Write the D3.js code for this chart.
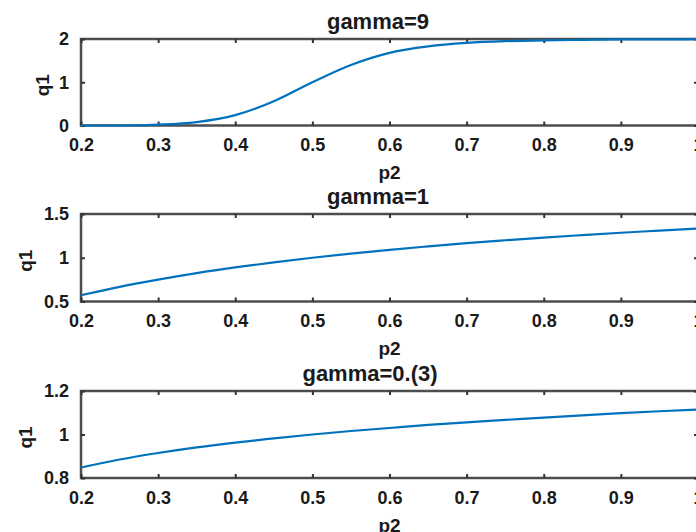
<!DOCTYPE html>
<html>
<head>
<meta charset="utf-8">
<script src="https://cdn.jsdelivr.net/npm/d3@7"></script>
<style>
  body { margin: 0; background: #fff; }
  svg { display: block; }
</style>
</head>
<body>
<svg id="svg"></svg>
<script>
// values
const p2Values = [0.2, 0.25, 0.3, 0.35, 0.4, 0.45, 0.5, 0.55, 0.6, 0.65, 0.7, 0.75, 0.8, 0.85, 0.9, 0.95, 1.0];
const q1Gamma9 = [0.0, 0.0, 0.02, 0.08, 0.24, 0.56, 1.0, 1.40, 1.68, 1.83, 1.91, 1.95, 1.97, 1.98, 1.99, 1.99, 2.0];
const q1Gamma1 = [0.571, 0.667, 0.75, 0.824, 0.889, 0.947, 1.0, 1.048, 1.091, 1.13, 1.167, 1.2, 1.231, 1.259, 1.286, 1.31, 1.333];
const q1GammaThird = [0.848, 0.885, 0.915, 0.941, 0.963, 0.982, 1.0, 1.016, 1.03, 1.044, 1.056, 1.067, 1.078, 1.088, 1.098, 1.107, 1.115];

const panelTitles = ["gamma=9", "gamma=1", "gamma=0.(3)"];
const xTicks = [0.2, 0.3, 0.4, 0.5, 0.6, 0.7, 0.8, 0.9, 1];
const yDomains = [[0, 2], [0.5, 1.5], [0.8, 1.2]];
const yTicks = [[0, 1, 2], [0.5, 1, 1.5], [0.8, 1, 1.2]];
const xLabel = "p2";
const yLabel = "q1";

let width = 696;
let height = 532;

let svg = d3.select("#svg")
    .attr("width", width)
    .attr("height", height);

// pixel boxes of the three axes
let panels = [
    { top: 39, bottom: 125.5, titleX: 378, ylabX: 49 },
    { top: 214, bottom: 301.5, titleX: 378, ylabX: 32 },
    { top: 391, bottom: 478, titleX: 370, ylabX: 32 }
];
let left = 81;
let right = 698;

const lineColor = "#0072BD";
const textColor = "#1a1a1a";
const font = "'Liberation Sans', Arial, Helvetica, sans-serif";

let x = d3.scaleLinear().domain([0.2, 1]).range([left, right]);

let allSeries = [q1Gamma9, q1Gamma1, q1GammaThird];

function styleAxis(g) {
    g.select(".domain").remove();
    g.selectAll(".tick line").attr("stroke", "#333").attr("stroke-width", 2);
    g.selectAll(".tick text")
        .attr("fill", textColor)
        .attr("font-size", "18px")
        .attr("font-weight", "bold")
        .attr("font-family", font);
}

function drawPanel(i) {
    let p = panels[i];
    let y = d3.scaleLinear().domain(yDomains[i]).range([p.bottom, p.top]);
    let g = svg.append("g");

    // box
    g.append("rect")
        .attr("x", left)
        .attr("y", p.top)
        .attr("width", right - left)
        .attr("height", p.bottom - p.top)
        .attr("fill", "none")
        .attr("stroke", "#4d4d4d")
        .attr("stroke-width", 2.5);

    g.append("g")
        .attr("transform", "translate(0," + p.bottom + ")")
        .call(d3.axisBottom(x).tickValues(xTicks).tickFormat(d3.format("~g"))
            .tickSizeInner(-4).tickSizeOuter(0).tickPadding(13))
        .call(styleAxis);

    g.append("g")
        .attr("transform", "translate(0," + p.top + ")")
        .call(d3.axisTop(x).tickValues(xTicks).tickFormat("")
            .tickSizeInner(-4).tickSizeOuter(0))
        .call(styleAxis);

    g.append("g")
        .attr("transform", "translate(" + left + ",0)")
        .call(d3.axisLeft(y).tickValues(yTicks[i]).tickFormat(d3.format("~g"))
            .tickSizeInner(-4).tickSizeOuter(0).tickPadding(12))
        .call(styleAxis);

    g.append("g")
        .attr("transform", "translate(" + right + ",0)")
        .call(d3.axisRight(y).tickValues(yTicks[i]).tickFormat("")
            .tickSizeInner(-4).tickSizeOuter(0))
        .call(styleAxis);

    // title
    g.append("text")
        .attr("x", p.titleX)
        .attr("y", p.top - 10)
        .attr("text-anchor", "middle")
        .attr("font-size", "22px")
        .attr("font-weight", "bold")
        .attr("font-family", font)
        .attr("fill", textColor)
        .text(panelTitles[i]);

    // x label
    g.append("text")
        .attr("x", (left + right) / 2)
        .attr("y", p.bottom + 47)
        .attr("dy", "0.35em")
        .attr("text-anchor", "middle")
        .attr("font-size", "19px")
        .attr("font-weight", "bold")
        .attr("font-family", font)
        .attr("fill", textColor)
        .text(xLabel);

    // y label
    let ly = (p.top + p.bottom) / 2 + 3;
    g.append("text")
        .attr("transform", "translate(" + p.ylabX + "," + ly + ") rotate(-90)")
        .attr("text-anchor", "middle")
        .attr("font-size", "19px")
        .attr("font-weight", "bold")
        .attr("font-family", font)
        .attr("fill", textColor)
        .text(yLabel);

    // curve
    let line = d3.line()
        .x((d, k) => x(p2Values[k]))
        .y(d => y(d))
        .curve(d3.curveMonotoneX);

    g.append("path")
        .datum(allSeries[i])
        .attr("d", line)
        .attr("fill", "none")
        .attr("stroke", lineColor)
        .attr("stroke-width", 2.2);
}

function initialise() {
    for (let i = 0; i < panels.length; i++) {
        drawPanel(i);
    }
}

initialise();
</script>
</body>
</html>
